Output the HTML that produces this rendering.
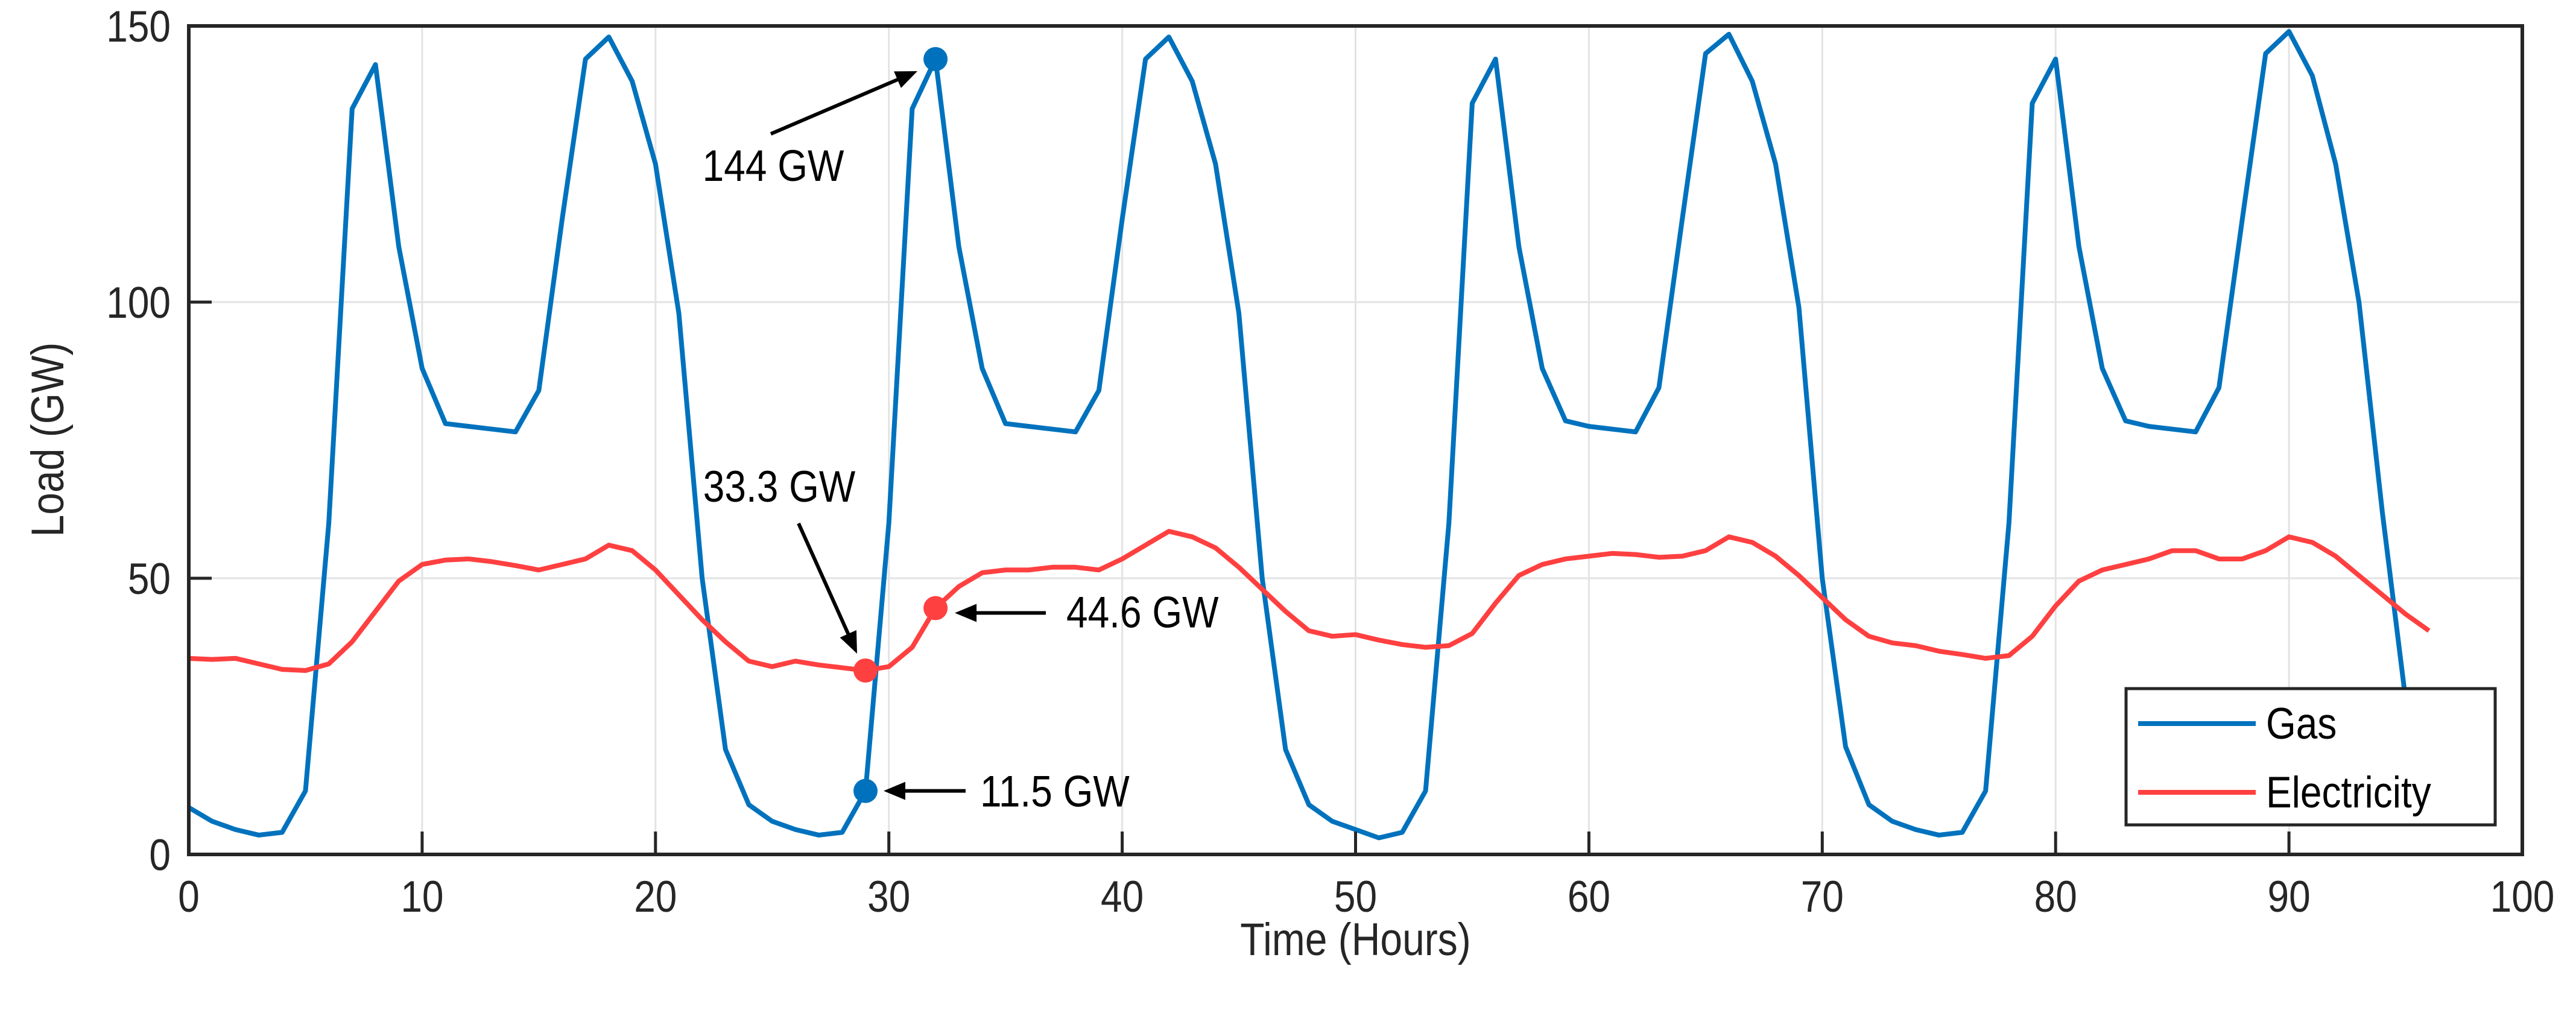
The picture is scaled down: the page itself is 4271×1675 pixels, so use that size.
<!DOCTYPE html>
<html><head><meta charset="utf-8"><style>
html,body{margin:0;padding:0;background:#fff;}
svg{display:block;font-family:"Liberation Sans",Arial,sans-serif;}
</style></head><body>
<svg id="chart" width="4271" height="1675" viewBox="0 0 4271 1675" xmlns="http://www.w3.org/2000/svg">
<rect x="0" y="0" width="4271" height="1675" fill="#fff"/>
<g id="grid"></g>
<g id="series"></g>
<g id="axes"></g>
<g id="annots"></g>
<g id="legend"></g>
</svg>
<script>
const hours = Array.from({length:97},(_,i)=>i);
const gasValues = [8.5,6,4.5,3.5,4,11.5,60,135,143,110,88,78,77.5,77,76.5,84,115,144,148,140,125,98,50,19,
9,6,4.5,3.5,4,11.5,60,135,144,110,88,78,77.5,77,76.5,84,115,144,148,140,125,98,50,19,
9,6,4.5,3,4,11.5,60,136,144,110,88,78.5,77.5,77,76.5,84.5,115,145,148.5,140,125,99,50,19.5,
9,6,4.5,3.5,4,11.5,60,136,144,110,88,78.5,77.5,77,76.5,84.5,115,145,149,141,125,100,62,28,9];
const elecValues = [35.5,35.3,35.5,34.5,33.5,33.3,34.5,38.5,44,49.5,52.5,53.3,53.5,53,52.3,51.5,52.5,53.5,56,55,51.5,47,42.5,38.5,
35,34,35,34.3,33.8,33.3,34,37.5,44.6,48.5,51,51.5,51.5,52,52,51.5,53.5,56,58.5,57.5,55.5,52,48,44,
40.5,39.5,39.8,38.8,38,37.5,37.8,40,45.5,50.5,52.5,53.5,54,54.5,54.3,53.8,54,55,57.5,56.5,54,50.5,46.5,42.5,
39.5,38.3,37.8,36.8,36.2,35.5,36,39.5,45,49.5,51.5,52.5,53.5,55,55,53.5,53.5,55,57.5,56.5,54,50.5,47,43.5,40.5];
const xTicks = [0,10,20,30,40,50,60,70,80,90,100];
const yTicks = [0,50,100,150];
const markerGas = [[29,11.5],[32,144]];
const markerElec = [[29,33.3],[32,44.6]];
const annotLabels = ["144 GW","33.3 GW","44.6 GW","11.5 GW"];

const L=313,R=4182,T=43,B=1417;
const sx=v=>L+(v-0)/(100-0)*(R-L);
const sy=v=>B-(v-0)/(150-0)*(B-T);
const NS="http://www.w3.org/2000/svg";
function mk(tag,attrs,parent){const e=document.createElementNS(NS,tag);for(const k in attrs)e.setAttribute(k,attrs[k]);parent.appendChild(e);return e;}
function txt(x,y,s,size,anchor,parent,color){
  return mk('text',{x:0,y:0,'font-size':size,'text-anchor':anchor,fill:color||'#262626',transform:`translate(${x},${y}) scale(1,1.15)`},parent);
}
const grid=document.getElementById('grid'),axes=document.getElementById('axes'),series=document.getElementById('series'),ann=document.getElementById('annots'),leg=document.getElementById('legend');

xTicks.forEach(t=>{
  const g=mk('line',{x1:sx(t),x2:sx(t),y1:T,y2:B,stroke:'#e3e3e3','stroke-width':3},grid);
  
  
  const tk=mk('line',{x1:sx(t),x2:sx(t),y1:B,y2:B-38,stroke:'#262626','stroke-width':5},axes);
  
  
  const tx=txt(sx(t),1512,String(t),64,'middle',axes);
  tx.textContent=t;
  
  
});
yTicks.forEach(t=>{
  const g=mk('line',{x1:L,x2:R,y1:sy(t),y2:sy(t),stroke:'#e3e3e3','stroke-width':3},grid);
  
  
  const tk=mk('line',{x1:L,x2:L+38,y1:sy(t),y2:sy(t),stroke:'#262626','stroke-width':5},axes);
  
  
  const tx=txt(L-30,sy(t)+26,String(t),64,'end',axes);
  tx.textContent=t;
  
  
});
const frame=mk('rect',{x:L,y:T,width:R-L,height:B-T,fill:'none',stroke:'#262626','stroke-width':6},axes);


const xl=txt((L+R)/2,1584,'',66,'middle',axes);
xl.textContent='Time (Hours)';


const yl=mk('text',{x:0,y:0,'text-anchor':'middle','font-size':66,fill:'#262626',transform:'translate(105,729) rotate(-90) scale(1,1.15)'},axes);
yl.textContent='Load (GW)';



const gasPath=mk('polyline',{points:hours.map((h,i)=>sx(h)+','+sy(gasValues[i])).join(' '),fill:'none',stroke:'#0072BD','stroke-width':8,'stroke-linejoin':'round'},series);


const elecPath=mk('polyline',{points:hours.map((h,i)=>sx(h)+','+sy(elecValues[i])).join(' '),fill:'none',stroke:'#FF4040','stroke-width':8,'stroke-linejoin':'round'},series);


markerGas.forEach(p=>{
  const c=mk('circle',{cx:sx(p[0]),cy:sy(p[1]),r:20,fill:'#0072BD'},series);
  
  
});
markerElec.forEach(p=>{
  const c=mk('circle',{cx:sx(p[0]),cy:sy(p[1]),r:20,fill:'#FF4040'},series);
  
  
});

function arrow(x1,y1,x2,y2,name){
  const a=Math.atan2(y2-y1,x2-x1),h=36,w=15;
  const g=mk('g',{},ann);
  
  
  mk('line',{x1:x1,y1:y1,x2:x2-Math.cos(a)*h*0.8,y2:y2-Math.sin(a)*h*0.8,stroke:'#000','stroke-width':6},g);
  const bx=x2-Math.cos(a)*h,by=y2-Math.sin(a)*h;
  mk('polygon',{points:`${x2},${y2} ${bx-Math.sin(a)*w},${by+Math.cos(a)*w} ${bx+Math.sin(a)*w},${by-Math.cos(a)*w}`,fill:'#000'},g);
}
function label(x,y,s,anchor,name){
  const t=txt(x,y,s,64,anchor,ann,'#000');
  t.textContent=s;
  
  
}
arrow(1278,222,sx(32)-30,sy(144)+20,'arrow-144');
label(1282,300,annotLabels[0],'middle','label-144-gw');
arrow(1324,868,sx(29)-14,sy(33.3)-28,'arrow-33-3');
label(1292,832,annotLabels[1],'middle','label-33-3-gw');
arrow(1734,sy(44.6)+8,sx(32)+32,sy(44.6)+8,'arrow-44-6');
label(1768,sy(44.6)+32,annotLabels[2],'start','label-44-6-gw');
arrow(1601,sy(11.5),sx(29)+30,sy(11.5),'arrow-11-5');
label(1625,sy(11.5)+26,annotLabels[3],'start','label-11-5-gw');

const box=mk('rect',{x:3525,y:1142,width:612,height:226,fill:'#fff',stroke:'#262626','stroke-width':5},leg);


[['Gas','#0072BD',1200,'legend-entry-gas'],['Electricity','#FF4040',1314,'legend-entry-electricity']].forEach(e=>{
  const g=mk('g',{},leg);
  
  
  mk('line',{x1:3545,x2:3740,y1:e[2],y2:e[2],stroke:e[1],'stroke-width':8},g);
  const t=txt(3757,e[2]+25,'',64,'start',g,'#000');
  t.textContent=e[0];
});
</script>
</body></html>
